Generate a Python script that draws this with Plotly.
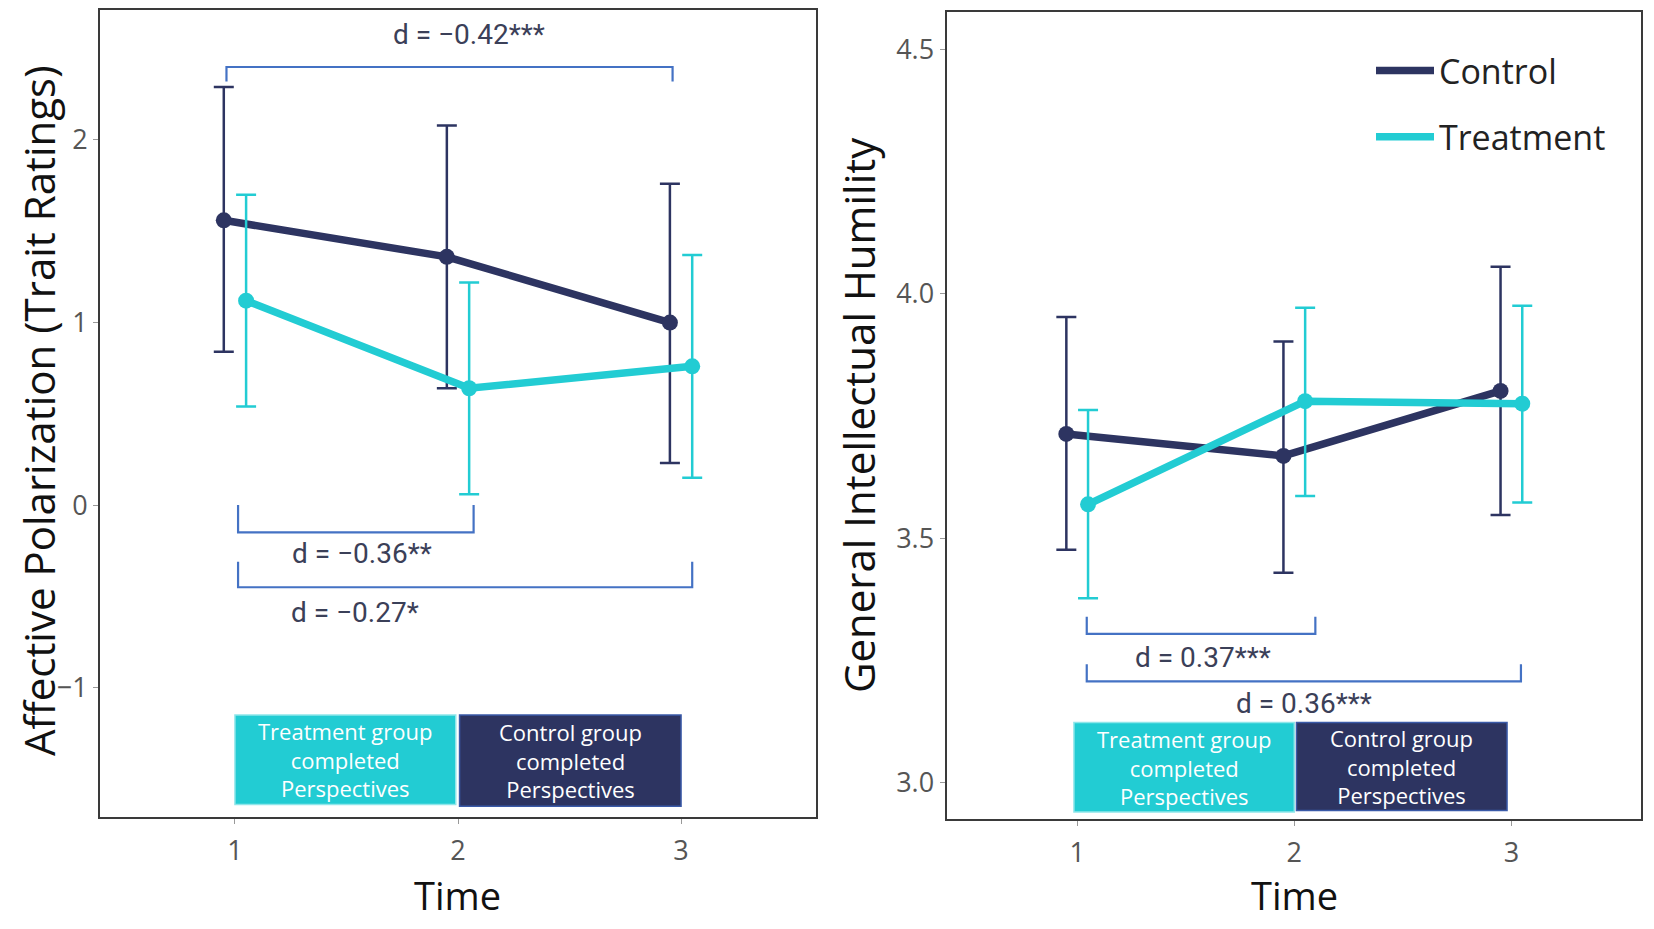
import plotly.graph_objects as go

# ---------------- data ----------------
time = [1, 2, 3]

# Panel A: Affective Polarization (Trait Ratings)
ap_control = [1.56, 1.36, 1.00]
ap_control_hi = [2.29, 2.08, 1.76]
ap_control_lo = [0.84, 0.64, 0.23]
ap_treat = [1.12, 0.64, 0.76]
ap_treat_hi = [1.70, 1.22, 1.37]
ap_treat_lo = [0.54, 0.06, 0.15]

# Panel B: General Intellectual Humility
ih_control = [3.713, 3.668, 3.801]
ih_control_hi = [3.952, 3.902, 4.055]
ih_control_lo = [3.476, 3.429, 3.547]
ih_treat = [3.569, 3.780, 3.775]
ih_treat_hi = [3.762, 3.971, 3.975]
ih_treat_lo = [3.377, 3.586, 3.573]

# effect-size brackets: (x0, x1, y_bar, y_tip, label, label_x, label_y)
ap_brackets = [
    (0.962, 2.962, 2.40, 2.32, "d = \u22120.42***", 2.05, 2.58),
    (1.014, 2.070, -0.15, 0.00, "d = \u22120.36**", 1.57, -0.265),
    (1.014, 3.050, -0.45, -0.31, "d = \u22120.27*", 1.54, -0.59),
]
ih_brackets = [
    (1.044, 2.097, 3.304, 3.339, "d = 0.37***", 1.58, 3.255),
    (1.044, 3.044, 3.207, 3.242, "d = 0.36***", 2.045, 3.162),
]

box_labels = ["Treatment group<br>completed<br>Perspectives",
              "Control group<br>completed<br>Perspectives"]
ap_boxes = [(1.0, 1.99, -1.64, -1.15), (2.007, 3.0, -1.65, -1.15)]
ih_boxes = [(0.985, 2.0, 2.94, 3.123), (2.01, 2.98, 2.943, 3.123)]

ap_yticks = [-1, 0, 1, 2]
ih_yticks = [3.0, 3.5, 4.0, 4.5]

# ---------------- style / layout helpers ----------------
C_CTRL = "#2d3461"
C_TRT = "#22ccd3"
C_BRACKET = "#4472c4"
C_TEXT = "#3b4058"
DODGE = 0.05

BODY = 8          # page body margin in the exported html
W, H = 1654 - 2 * BODY, 929 - 2 * BODY


def px(X):
    return (X - BODY) / W


def py(Y):
    return 1 - (Y - BODY) / H


fig = go.Figure()


def add_series(xaxis, yaxis, y, hi, lo, color, offset):
    fig.add_trace(go.Scatter(
        x=[t + offset for t in time], y=y, mode="lines+markers",
        line=dict(color=color, width=7.5),
        marker=dict(color=color, size=16),
        error_y=dict(type="data", symmetric=False,
                     array=[h - v for h, v in zip(hi, y)],
                     arrayminus=[v - l for v, l in zip(y, lo)],
                     color=color, thickness=2.5, width=10),
        xaxis=xaxis, yaxis=yaxis, showlegend=False, hoverinfo="skip"))


add_series("x", "y", ap_control, ap_control_hi, ap_control_lo, C_CTRL, -DODGE)
add_series("x", "y", ap_treat, ap_treat_hi, ap_treat_lo, C_TRT, DODGE)
add_series("x2", "y2", ih_control, ih_control_hi, ih_control_lo, C_CTRL, -DODGE)
add_series("x2", "y2", ih_treat, ih_treat_hi, ih_treat_lo, C_TRT, DODGE)

# legend-only traces (line symbol only)
for name, col, grp in [("Control", C_CTRL, "a"), ("Treatment", C_TRT, "b")]:
    fig.add_trace(go.Scatter(x=[None], y=[None], mode="lines", name=name,
                             line=dict(color=col, width=7.5), legendgroup=grp,
                             xaxis="x2", yaxis="y2"))

shapes = []
annotations = []


def add_brackets(brs, xr, yr):
    for x0, x1, yb, yt, lab, lx, ly in brs:
        shapes.append(dict(type="path", xref=xr, yref=yr,
                           path=f"M {x0},{yt} L {x0},{yb} L {x1},{yb} L {x1},{yt}",
                           line=dict(color=C_BRACKET, width=2.2)))
        annotations.append(dict(x=lx, y=ly, xref=xr, yref=yr, text=lab,
                                showarrow=False, xanchor="center", yanchor="middle",
                                font=dict(family="Roboto", size=28, color=C_TEXT)))


def add_boxes(bxs, xr, yr):
    for (x0, x1, y0, y1), lab, fill, border in zip(
            bxs, box_labels, [C_TRT, C_CTRL], ["#8fe6ea", "#3a5aa8"]):
        shapes.append(dict(type="rect", xref=xr, yref=yr, x0=x0, x1=x1, y0=y0, y1=y1,
                           fillcolor=fill, line=dict(color=border, width=1.5),
                           layer="above"))
        annotations.append(dict(x=(x0 + x1) / 2, y=(y0 + y1) / 2, xref=xr, yref=yr,
                                text=lab, showarrow=False, align="center",
                                xanchor="center", yanchor="middle",
                                font=dict(family="Open Sans", size=22, color="white")))


add_brackets(ap_brackets, "x", "y")
add_brackets(ih_brackets, "x2", "y2")
add_boxes(ap_boxes, "x", "y")
add_boxes(ih_boxes, "x2", "y2")

title_font = dict(family="Open Sans", size=42, color="#111")
time_font = dict(family="Open Sans", size=38, color="#111")
annotations += [
    dict(x=px(38), y=py(410), xref="paper", yref="paper",
         text="Affective Polarization (Trait Ratings)", showarrow=False, textangle=-90,
         xanchor="center", yanchor="middle", font=title_font),
    dict(x=px(858), y=py(414), xref="paper", yref="paper",
         text="General Intellectual Humility", showarrow=False, textangle=-90,
         xanchor="center", yanchor="middle", font=title_font),
    dict(x=px(457), y=py(895), xref="paper", yref="paper", text="Time",
         showarrow=False, xanchor="center", yanchor="middle", font=time_font),
    dict(x=px(1294), y=py(895), xref="paper", yref="paper", text="Time",
         showarrow=False, xanchor="center", yanchor="middle", font=time_font),
]

axis_common = dict(showline=True, mirror=True, linecolor="#3a3a3a", linewidth=2,
                   showgrid=False, zeroline=False, ticks="outside", ticklen=5,
                   tickcolor="#999", tickfont=dict(family="Open Sans", size=27, color="#555"))

fig.update_layout(
    width=W, height=H,
    margin=dict(l=0, r=0, t=0, b=0),
    paper_bgcolor="white", plot_bgcolor="white",
    xaxis=dict(domain=[px(100), px(816)], range=[0.395, 3.605], tickvals=time,
               anchor="y", ticklabelstandoff=3, **axis_common),
    yaxis=dict(domain=[py(817), py(8.4)], range=[-1.71, 2.71], tickvals=ap_yticks,
               anchor="x", **axis_common),
    xaxis2=dict(domain=[px(946.5), px(1641)], range=[0.398, 3.597], tickvals=time,
                anchor="y2", ticklabelstandoff=3, **axis_common),
    yaxis2=dict(domain=[py(819), py(10.5)], range=[2.925, 4.575], tickvals=ih_yticks,
                tickformat=".1f", anchor="x2", **axis_common),
    shapes=shapes, annotations=annotations,
    legend=dict(x=px(1371), y=py(40), xanchor="left", yanchor="top",
                bgcolor="rgba(0,0,0,0)", font=dict(family="Open Sans", size=34, color="#222"),
                itemwidth=58, tracegroupgap=19, traceorder="grouped"),
)

fig.write_html("out.html")
